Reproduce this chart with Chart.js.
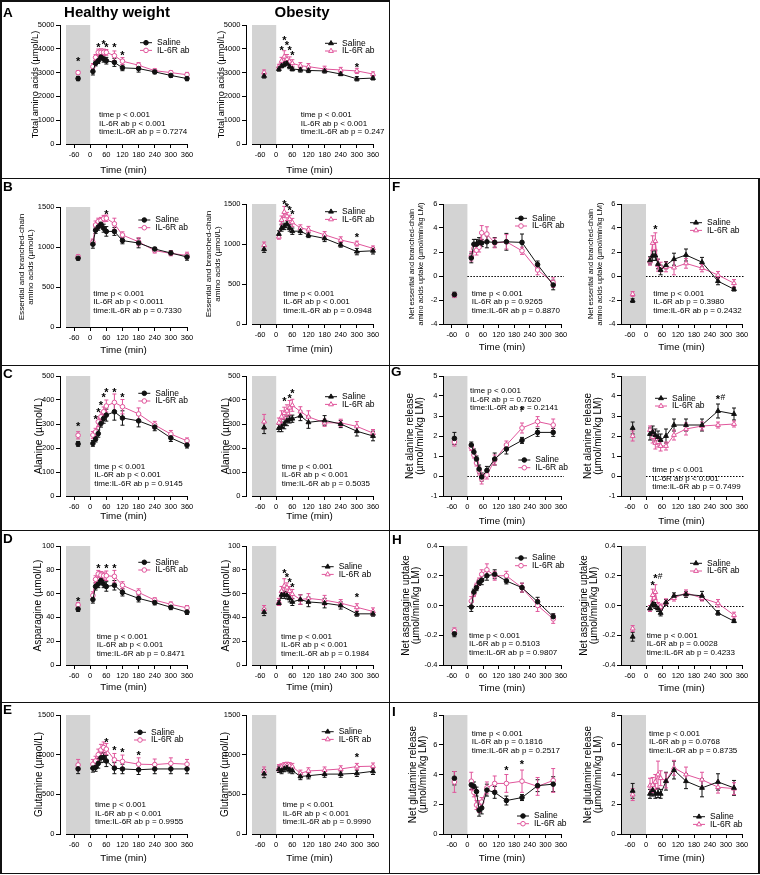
<!DOCTYPE html>
<html>
<head>
<meta charset="utf-8">
<script src="https://cdn.jsdelivr.net/npm/chart.js@4.4.1/dist/chart.umd.min.js"></script>
<style>
  body { margin: 0; background: #fff; }
  #fig { position: relative; width: 760px; height: 875px; overflow: hidden; font-family: "Liberation Sans", Arial, sans-serif; }
  #fig canvas { position: absolute; }
  .ln { position: absolute; background: #111; }
  .lbl { position: absolute; font-weight: bold; white-space: nowrap; }
</style>
</head>
<body>
<div id="fig"></div>
<script>
// Time axes
const concTimes = [-45, 10, 20, 30, 40, 50, 60, 90, 120, 180, 240, 300, 360];
const fluxTimes = [-50, 15, 25, 35, 45, 55, 75, 105, 150, 210, 270, 330];
const xTicks = [-60, 0, 60, 120, 180, 240, 300, 360];

// A - total amino acids
const taaTicks = [0, 1000, 2000, 3000, 4000, 5000];
const taaHwSal = [2750, 3050, 3390, 3500, 3650, 3570, 3500, 3430, 3200, 3170, 3030, 2880, 2750];
const taaHwSalErr = [90, 150, 110, 120, 120, 130, 140, 170, 120, 150, 80, 80, 90];
const taaHwIl = [3000, 3250, 3640, 3850, 3850, 3850, 3850, 3710, 3480, 3310, 3080, 3000, 2910];
const taaHwIlErr = [80, 130, 120, 140, 150, 140, 120, 200, 150, 110, 80, 80, 100];
const taaObSal = [2860, 3150, 3280, 3350, 3390, 3250, 3150, 3120, 3090, 3070, 2940, 2740, 2770];
const taaObSalErr = [90, 90, 80, 100, 80, 90, 80, 100, 90, 90, 70, 90, 80];
const taaObIl = [3010, 3250, 3490, 3670, 3560, 3460, 3390, 3290, 3250, 3150, 3110, 3070, 2940];
const taaObIlErr = [100, 100, 150, 250, 200, 200, 150, 130, 130, 120, 110, 110, 90];
const taaHwStarX = [-45, 30, 50, 60, 90, 120];
const taaHwStarY = [3580, 4160, 4300, 4190, 4160, 3850];
const taaObStarX = [20, 30, 40, 50, 60, 300];
const taaObStarY = [4050, 4480, 4270, 4050, 3850, 3350];
const taaHwStats = ["time p < 0.001", "IL-6R ab p < 0.001", "time:IL-6R ab p = 0.7274"];
const taaObStats = ["time p < 0.001", "IL-6R ab p < 0.001", "time:IL-6R ab p = 0.247"];

// B - essential and branched-chain amino acids
const eaaTicks = [0, 500, 1000, 1500];
const eaaHwSal = [860, 1035, 1210, 1250, 1285, 1235, 1195, 1195, 1080, 1050, 975, 925, 875];
const eaaHwSalErr = [25, 50, 40, 40, 35, 50, 60, 50, 40, 60, 20, 30, 40];
const eaaHwIl = [880, 1060, 1275, 1320, 1330, 1355, 1360, 1290, 1150, 1065, 955, 920, 895];
const eaaHwIlErr = [25, 40, 50, 40, 40, 40, 40, 70, 40, 50, 30, 30, 40];
const eaaObSal = [935, 1125, 1200, 1220, 1250, 1200, 1160, 1160, 1110, 1070, 990, 905, 915];
const eaaObSalErr = [40, 40, 40, 40, 40, 40, 40, 40, 30, 40, 30, 40, 40];
const eaaObIl = [985, 1090, 1300, 1400, 1345, 1310, 1270, 1200, 1180, 1115, 1050, 1005, 945];
const eaaObIlErr = [40, 30, 50, 70, 50, 50, 50, 40, 40, 40, 40, 30, 30];
const eaaHwStarX = [60];
const eaaHwStarY = [1445];
const eaaObStarX = [30, 40, 50, 60, 300];
const eaaObStarY = [1534, 1492, 1459, 1400, 1116];
const eaaHwStats = ["time p < 0.001", "IL-6R ab p < 0.0011", "time:IL-6R ab p = 0.7330"];
const eaaObStats = ["time p < 0.001", "IL-6R ab p < 0.001", "time:IL-6R ab p = 0.0948"];

// C - alanine
const alaTicks = [0, 100, 200, 300, 400, 500];
const alaHwSal = [217, 219, 237, 260, 302, 323, 337, 351, 325, 313, 287, 242, 212];
const alaHwSalErr = [10, 12, 12, 15, 15, 20, 25, 35, 30, 25, 15, 15, 12];
const alaHwIl = [253, 254, 267, 309, 330, 351, 375, 390, 372, 342, 296, 258, 230];
const alaHwIlErr = [15, 15, 15, 20, 20, 20, 25, 35, 30, 25, 15, 15, 12];
const alaObSal = [285, 283, 288, 300, 313, 319, 322, 334, 307, 315, 300, 270, 250];
const alaObSalErr = [25, 15, 20, 20, 20, 15, 15, 20, 25, 20, 15, 20, 20];
const alaObIl = [310, 305, 330, 345, 355, 368, 378, 352, 330, 305, 305, 290, 262];
const alaObIlErr = [30, 20, 25, 25, 25, 30, 25, 20, 25, 15, 15, 20, 15];
const alaHwStarX = [-45, 20, 30, 40, 50, 60, 90, 120];
const alaHwStarY = [302, 330, 358, 389, 423, 442, 442, 423];
const alaObStarX = [30, 50, 60];
const alaObStarY = [405, 420, 440];
const alaHwStats = ["time p < 0.001", "IL-6R ab p < 0.001", "time:IL-6R ab p = 0.9145"];
const alaObStats = ["time p < 0.001", "IL-6R ab p < 0.001", "time:IL-6R ab p = 0.5035"];

// D - asparagine
const asnTicks = [0, 20, 40, 60, 80, 100];
const asnHwSal = [47, 55, 66, 68, 71, 68, 66, 67, 61, 56, 52.5, 48.5, 44.5];
const asnHwSalErr = [2, 3, 3, 3, 3, 3, 4, 4, 3, 3, 2, 2, 2];
const asnHwIl = [50.5, 58.5, 72, 76.5, 75.5, 75, 75, 74.5, 67, 61, 54.5, 51, 48];
const asnHwIlErr = [2, 3, 3, 3, 3, 3, 4, 5, 3, 3, 2, 2, 2];
const asnObSal = [44.5, 52, 59, 59, 58.5, 56, 53, 55, 53, 52, 50, 43, 43];
const asnObSalErr = [3, 2, 3, 3, 3, 3, 3, 4, 4, 4, 3, 2, 2];
const asnObIl = [47, 53, 62, 66.5, 65, 62, 59.5, 55, 56, 54.5, 52, 48.5, 45];
const asnObIlErr = [3, 3, 4, 6, 4, 4, 4, 4, 4, 4, 3, 3, 3];
const asnHwStarX = [-45, 30, 60, 90];
const asnHwStarY = [55.7, 83.8, 83.8, 83.8];
const asnObStarX = [30, 40, 50, 60, 300];
const asnObStarY = [79.6, 76.2, 71.7, 67.5, 59.1];
const asnHwStats = ["time p < 0.001", "IL-6R ab p < 0.001", "time:IL-6R ab p = 0.8471"];
const asnObStats = ["time p < 0.001", "IL-6R ab p < 0.001", "time:IL-6R ab p = 0.1984"];

// E - glutamine
const glnTicks = [0, 500, 1000, 1500];
const glnHwSal = [821, 830, 840, 890, 960, 965, 920, 830, 820, 810, 820, 820, 820];
const glnHwSalErr = [60, 50, 50, 60, 60, 60, 70, 70, 60, 60, 60, 60, 60];
const glnHwIl = [870, 880, 920, 1000, 1060, 1090, 1070, 935, 915, 880, 875, 890, 880];
const glnHwIlErr = [70, 60, 60, 70, 70, 70, 70, 80, 80, 80, 70, 70, 60];
const glnObSal = [760, 815, 800, 825, 835, 810, 800, 725, 735, 755, 755, 765, 790];
const glnObSalErr = [50, 40, 40, 40, 40, 40, 40, 40, 40, 40, 40, 40, 40];
const glnObIl = [795, 835, 845, 860, 865, 860, 850, 765, 795, 805, 820, 850, 855];
const glnObIlErr = [50, 40, 40, 40, 40, 40, 40, 40, 40, 40, 40, 40, 40];
const glnHwStarX = [60, 90, 120, 180];
const glnHwStarY = [1186, 1089, 1060, 1026];
const glnObStarX = [300];
const glnObStarY = [997];
const glnHwStats = ["time p < 0.001", "IL-6R ab p < 0.001", "time:IL-6R ab p = 0.9955"];
const glnObStats = ["time p < 0.001", "IL-6R ab p < 0.001", "time:IL-6R ab p = 0.9990"];

// F - net EAA/BCAA uptake
const eaaUpTicks = [-4, -2, 0, 2, 4, 6];
const eaaUpHwSal = [-1.55, 1.5, 2.65, 2.65, 2.8, 2.75, 2.85, 2.8, 2.85, 2.8, 0.95, -0.75];
const eaaUpHwSalErr = [0.2, 0.4, 0.4, 0.4, 0.4, 0.3, 0.5, 0.4, 0.7, 0.7, 0.3, 0.4];
const eaaUpHwIl = [-1.6, 1.65, 2.3, 2.15, 2.4, 3.6, 3.5, 2.75, 2.85, 2.1, 0.5, -0.55];
const eaaUpHwIlErr = [0.2, 0.4, 0.3, 0.4, 0.4, 0.6, 0.6, 0.4, 0.6, 0.3, 0.4, 0.4];
const eaaUpObSal = [-2.05, 1.3, 1.7, 1.7, 1.0, 0.5, 0.9, 1.4, 1.75, 1.15, -0.43, -1.1];
const eaaUpObSalErr = [0.15, 0.3, 0.4, 0.4, 0.4, 0.4, 0.3, 0.5, 0.5, 0.4, 0.3, 0.15];
const eaaUpObIl = [-1.5, 1.2, 2.75, 2.9, 0.9, 0.75, 0.75, 0.7, 1.05, 0.65, 0.08, -0.6];
const eaaUpObIlErr = [0.2, 0.3, 0.6, 0.7, 0.5, 0.4, 0.4, 0.6, 0.4, 0.3, 0.3, 0.3];
const eaaUpObStarX = [35];
const eaaUpObStarY = [4.1];
const eaaUpHwStats = ["time p < 0.001", "IL-6R ab p = 0.9265", "time:IL-6R ab p = 0.8870"];
const eaaUpObStats = ["time p < 0.001", "IL-6R ab p = 0.3980", "time:IL-6R ab p = 0.2432"];

// G - net alanine release
const alaRelTicks = [-1, 0, 1, 2, 3, 4, 5];
const alaRelHwSal = [1.88, 1.55, 1.2, 0.85, 0.35, -0.05, 0.28, 0.85, 1.35, 1.78, 2.18, 2.18];
const alaRelHwSalErr = [0.3, 0.15, 0.15, 0.15, 0.2, 0.2, 0.2, 0.3, 0.25, 0.15, 0.2, 0.2];
const alaRelHwIl = [1.7, 1.42, 1.05, 0.65, 0.25, -0.15, 0.05, 0.8, 1.55, 2.4, 2.72, 2.55];
const alaRelHwIlErr = [0.2, 0.15, 0.15, 0.15, 0.2, 0.25, 0.2, 0.25, 0.2, 0.25, 0.25, 0.3];
const alaRelObSal = [2.4, 2.1, 2.2, 2.05, 1.95, 1.8, 2.0, 2.55, 2.55, 2.55, 3.25, 3.1];
const alaRelObSalErr = [0.3, 0.3, 0.3, 0.3, 0.3, 0.3, 0.35, 0.3, 0.3, 0.3, 0.35, 0.3];
const alaRelObIl = [2.0, 2.3, 1.95, 1.65, 1.7, 1.5, 1.5, 2.05, 2.35, 2.5, 2.55, 2.6];
const alaRelObIlErr = [0.25, 0.2, 0.3, 0.3, 0.25, 0.25, 0.2, 0.25, 0.3, 0.2, 0.15, 0.15];
const alaRelHwStarX = [210];
const alaRelHwStarY = [3.41];
const alaRelObStarX = [270];
const alaRelObStarY = [3.96];
const alaRelObStarTxt = ["*#"];
const alaRelHwStats = ["time p < 0.001", "IL-6R ab p = 0.7620", "time:IL-6R ab p = 0.2141"];
const alaRelObStats = ["time p < 0.001", "IL-6R ab p < 0.001", "time:IL-6R ab p = 0.7499"];

// H - net asparagine uptake
const asnUpTicks = [-0.4, -0.2, 0, 0.2, 0.4];
const asnUpHwSal = [-0.19, -0.01, 0.09, 0.12, 0.155, 0.17, 0.2, 0.21, 0.165, 0.12, 0.025, -0.075];
const asnUpHwSalErr = [0.02, 0.03, 0.02, 0.02, 0.02, 0.03, 0.03, 0.03, 0.02, 0.03, 0.03, 0.02];
const asnUpHwIl = [-0.17, 0.03, 0.08, 0.13, 0.165, 0.21, 0.24, 0.2, 0.2, 0.12, 0.0, -0.09];
const asnUpHwIlErr = [0.02, 0.03, 0.02, 0.02, 0.02, 0.03, 0.04, 0.03, 0.03, 0.03, 0.04, 0.03];
const asnUpObSal = [-0.21, -0.02, 0.01, 0.0, -0.02, -0.05, 0.02, 0.065, 0.075, 0.065, -0.05, -0.105];
const asnUpObSalErr = [0.03, 0.02, 0.02, 0.02, 0.02, 0.02, 0.02, 0.02, 0.02, 0.03, 0.015, 0.01];
const asnUpObIl = [-0.155, -0.02, 0.07, 0.09, 0.0, -0.01, 0.025, 0.05, 0.085, 0.05, 0.015, -0.065];
const asnUpObIlErr = [0.02, 0.02, 0.04, 0.05, 0.02, 0.02, 0.02, 0.02, 0.02, 0.02, 0.025, 0.02];
const asnUpObStarX = [25, 35];
const asnUpObStarY = [0.156, 0.2];
const asnUpObStarTxt = ["*", "*#"];
const asnUpHwStats = ["time p < 0.001", "IL-6R ab p = 0.5103", "time:IL-6R ab p = 0.9807"];
const asnUpObStats = ["time p < 0.001", "IL-6R ab p = 0.0028", "time:IL-6R ab p = 0.4233"];

// I - net glutamine release
const glnRelTicks = [0, 2, 4, 6, 8];
const glnRelHwSal = [3.75, 3.3, 3.2, 2.85, 1.6, 1.75, 2.95, 2.8, 2.25, 2.45, 3.25, 3.35];
const glnRelHwSalErr = [0.45, 0.3, 0.3, 0.3, 0.4, 0.4, 0.4, 0.4, 0.3, 0.2, 0.4, 0.5];
const glnRelHwIl = [3.5, 3.55, 2.8, 1.95, 1.85, 2.15, 3.1, 3.4, 3.4, 3.55, 3.2, 3.6];
const glnRelHwIlErr = [0.7, 0.6, 0.3, 0.3, 0.4, 0.3, 0.4, 0.5, 0.6, 0.75, 0.6, 0.8];
const glnRelObSal = [2.9, 2.7, 2.95, 2.7, 2.75, 2.7, 3.55, 4.3, 3.55, 3.1, 3.5, 3.1];
const glnRelObSalErr = [0.5, 0.3, 0.4, 0.3, 0.3, 0.3, 0.6, 0.6, 0.5, 0.6, 0.55, 0.5];
const glnRelObIl = [2.65, 3.25, 3.3, 3.5, 4.0, 3.75, 3.6, 4.45, 4.0, 3.65, 3.15, 3.05];
const glnRelObIlErr = [0.4, 0.5, 0.5, 0.5, 0.9, 0.5, 0.5, 0.5, 0.5, 0.5, 0.4, 0.4];
const glnRelHwStarX = [150, 210];
const glnRelHwStarY = [4.47, 4.87];
const glnRelHwStats = ["time p < 0.001", "IL-6R ab p = 0.1816", "time:IL-6R ab p = 0.2517"];
const glnRelObStats = ["time p < 0.001", "IL-6R ab p = 0.0768", "time:IL-6R ab p = 0.8735"];

// look
const FONT = '"Liberation Sans", Arial, Helvetica, sans-serif';
const PINK = "#E0559B";
const BLACK = "#111111";
const SHADE = "#D3D3D3";
const Y_W = 50, PAD_T = 12, PAD_R = 22, X_H = 34;

Chart.defaults.font.family = FONT;
Chart.defaults.color = "#000";

const fig = document.getElementById("fig");

// column geometry: y-axis x, x of -90 min, x of 360 min
const L1 = [60, 66, 187], L2 = [246, 252, 373], R1 = [443, 444, 561], R2 = [621, 622, 742];

const TT_B = ["Essential and branched-chain", "amino acids (µmol/L)"];
const TT_F = ["Net essential and branched-chain", "amino acids uptake (µmol/min/kg LM)"];

const charts = [
  { geo: [...L1, 25, 144], times: concTimes, sal: taaHwSal, salErr: taaHwSalErr, il: taaHwIl, ilErr: taaHwIlErr, marker: "circle",
    yTicks: taaTicks, yDec: 0, yTitle: "Total amino acids (µmol/L)", ytSize: 9.2, ytLH: 1.2, ytD: 25, xtD: 26,
    leg: [140, 42.7], stats: taaHwStats, statXY: [99, 115], starX: taaHwStarX, starY: taaHwStarY },
  { geo: [...L2, 25, 144], times: concTimes, sal: taaObSal, salErr: taaObSalErr, il: taaObIl, ilErr: taaObIlErr, marker: "triangle",
    yTicks: taaTicks, yDec: 0, yTitle: "Total amino acids (µmol/L)", ytSize: 9.2, ytLH: 1.2, ytD: 24.5, xtD: 26,
    leg: [325, 43.3], stats: taaObStats, statXY: [300.7, 115], starX: taaObStarX, starY: taaObStarY },

  { geo: [...L1, 207, 327], times: concTimes, sal: eaaHwSal, salErr: eaaHwSalErr, il: eaaHwIl, ilErr: eaaHwIlErr, marker: "circle",
    yTicks: eaaTicks, yDec: 0, yTitle: TT_B, ytSize: 8.1, ytLH: 1.11, ytD: 38.3, xtD: 23.3,
    leg: [138.3, 220], stats: eaaHwStats, statXY: [93.3, 293.3], starX: eaaHwStarX, starY: eaaHwStarY },
  { geo: [...L2, 204, 324], times: concTimes, sal: eaaObSal, salErr: eaaObSalErr, il: eaaObIl, ilErr: eaaObIlErr, marker: "triangle",
    yTicks: eaaTicks, yDec: 0, yTitle: TT_B, ytSize: 8.1, ytLH: 1.11, ytD: 37.3, xtD: 25,
    leg: [325, 211.7], stats: eaaObStats, statXY: [283.3, 293.3], starX: eaaObStarX, starY: eaaObStarY },

  { geo: [...L1, 376, 496], times: concTimes, sal: alaHwSal, salErr: alaHwSalErr, il: alaHwIl, ilErr: alaHwIlErr, marker: "circle",
    yTicks: alaTicks, yDec: 0, yTitle: "Alanine (µmol/L)", ytSize: 10.5, ytLH: 1.2, ytD: 21, xtD: 20.5,
    leg: [138.3, 393.3], stats: alaHwStats, statXY: [94.3, 466.7], starX: alaHwStarX, starY: alaHwStarY },
  { geo: [...L2, 376, 496], times: concTimes, sal: alaObSal, salErr: alaObSalErr, il: alaObIl, ilErr: alaObIlErr, marker: "triangle",
    yTicks: alaTicks, yDec: 0, yTitle: "Alanine (µmol/L)", ytSize: 10.5, ytLH: 1.2, ytD: 19.5, xtD: 20.5,
    leg: [325, 396.7], stats: alaObStats, statXY: [281.7, 466.7], starX: alaObStarX, starY: alaObStarY },

  { geo: [...L1, 546, 665], times: concTimes, sal: asnHwSal, salErr: asnHwSalErr, il: asnHwIl, ilErr: asnHwIlErr, marker: "circle",
    yTicks: asnTicks, yDec: 0, yTitle: "Asparagine (µmol/L)", ytSize: 10.2, ytLH: 1.2, ytD: 21.7, xtD: 22.7,
    leg: [138.3, 562.3], stats: asnHwStats, statXY: [96.7, 636.3], starX: asnHwStarX, starY: asnHwStarY },
  { geo: [...L2, 546, 665], times: concTimes, sal: asnObSal, salErr: asnObSalErr, il: asnObIl, ilErr: asnObIlErr, marker: "triangle",
    yTicks: asnTicks, yDec: 0, yTitle: "Asparagine (µmol/L)", ytSize: 10.2, ytLH: 1.2, ytD: 20, xtD: 22.7,
    leg: [321.7, 566.7], stats: asnObStats, statXY: [281, 636.3], starX: asnObStarX, starY: asnObStarY },

  { geo: [...L1, 715, 834], times: concTimes, sal: glnHwSal, salErr: glnHwSalErr, il: glnHwIl, ilErr: glnHwIlErr, marker: "circle",
    yTicks: glnTicks, yDec: 0, yTitle: "Glutamine (µmol/L)", ytSize: 10, ytLH: 1.2, ytD: 21, xtD: 24.7,
    leg: [134, 732.3], stats: glnHwStats, statXY: [95, 805], starX: glnHwStarX, starY: glnHwStarY },
  { geo: [...L2, 715, 834], times: concTimes, sal: glnObSal, salErr: glnObSalErr, il: glnObIl, ilErr: glnObIlErr, marker: "triangle",
    yTicks: glnTicks, yDec: 0, yTitle: "Glutamine (µmol/L)", ytSize: 10, ytLH: 1.2, ytD: 20.7, xtD: 24.7,
    leg: [321.7, 731.7], stats: glnObStats, statXY: [282.7, 805], starX: glnObStarX, starY: glnObStarY },

  { geo: [...R1, 204, 324], times: fluxTimes, sal: eaaUpHwSal, salErr: eaaUpHwSalErr, il: eaaUpHwIl, ilErr: eaaUpHwIlErr, marker: "circle",
    yTicks: eaaUpTicks, yDec: 0, yTitle: TT_F, ytSize: 7.4, ytLH: 1.18, ytD: 30.7, xtD: 23, zero: true,
    leg: [515, 218.3], stats: eaaUpHwStats, statXY: [471.7, 293.3], starX: [], starY: [] },
  { geo: [...R2, 204, 324], times: fluxTimes, sal: eaaUpObSal, salErr: eaaUpObSalErr, il: eaaUpObIl, ilErr: eaaUpObIlErr, marker: "triangle",
    yTicks: eaaUpTicks, yDec: 0, yTitle: TT_F, ytSize: 7.4, ytLH: 1.18, ytD: 29.7, xtD: 23, zero: true,
    leg: [690, 222.7], stats: eaaUpObStats, statXY: [653.3, 293.3], starX: eaaUpObStarX, starY: eaaUpObStarY },

  { geo: [...R1, 376, 496], times: fluxTimes, sal: alaRelHwSal, salErr: alaRelHwSalErr, il: alaRelHwIl, ilErr: alaRelHwIlErr, marker: "circle",
    yTicks: alaRelTicks, yDec: 0, yTitle: ["Net alanine release", "(µmol/min/kg LM)"], ytSize: 10, ytLH: 1.0, ytD: 33, xtD: 25, zero: true,
    leg: [518.3, 460], stats: alaRelHwStats, statXY: [470, 391], starX: alaRelHwStarX, starY: alaRelHwStarY },
  { geo: [...R2, 376, 496], times: fluxTimes, sal: alaRelObSal, salErr: alaRelObSalErr, il: alaRelObIl, ilErr: alaRelObIlErr, marker: "triangle",
    yTicks: alaRelTicks, yDec: 0, yTitle: ["Net alanine release", "(µmol/min/kg LM)"], ytSize: 10, ytLH: 1.0, ytD: 32.4, xtD: 25, zero: true,
    leg: [655, 398.3], stats: alaRelObStats, statXY: [652.3, 470], starX: alaRelObStarX, starY: alaRelObStarY, starTxt: alaRelObStarTxt },

  { geo: [...R1, 546, 665], times: fluxTimes, sal: asnUpHwSal, salErr: asnUpHwSalErr, il: asnUpHwIl, ilErr: asnUpHwIlErr, marker: "circle",
    yTicks: asnUpTicks, yDec: 1, yTitle: ["Net asparagine uptake", "(µmol/min/kg LM)"], ytSize: 10, ytLH: 1.0, ytD: 36.3, xtD: 23.7, zero: true,
    leg: [515, 558], stats: asnUpHwStats, statXY: [469, 635.7], starX: [], starY: [] },
  { geo: [...R2, 546, 665], times: fluxTimes, sal: asnUpObSal, salErr: asnUpObSalErr, il: asnUpObIl, ilErr: asnUpObIlErr, marker: "triangle",
    yTicks: asnUpTicks, yDec: 1, yTitle: ["Net asparagine uptake", "(µmol/min/kg LM)"], ytSize: 10, ytLH: 1.0, ytD: 36.4, xtD: 23.7, zero: true,
    leg: [690, 563.3], stats: asnUpObStats, statXY: [646.7, 635.7], starX: asnUpObStarX, starY: asnUpObStarY, starTxt: asnUpObStarTxt },

  { geo: [...R1, 715, 834], times: fluxTimes, sal: glnRelHwSal, salErr: glnRelHwSalErr, il: glnRelHwIl, ilErr: glnRelHwIlErr, marker: "circle",
    yTicks: glnRelTicks, yDec: 0, yTitle: ["Net glutamine release", "(µmol/min/kg LM)"], ytSize: 10, ytLH: 1.0, ytD: 29.7, xtD: 24.7,
    leg: [517, 816], stats: glnRelHwStats, statXY: [471.7, 733.3], starX: glnRelHwStarX, starY: glnRelHwStarY },
  { geo: [...R2, 715, 834], times: fluxTimes, sal: glnRelObSal, salErr: glnRelObSalErr, il: glnRelObIl, ilErr: glnRelObIlErr, marker: "triangle",
    yTicks: glnRelTicks, yDec: 0, yTitle: ["Net glutamine release", "(µmol/min/kg LM)"], ytSize: 10, ytLH: 1.0, ytD: 32.7, xtD: 24.7,
    leg: [693, 816.7], stats: glnRelObStats, statXY: [649, 733.3], starX: [], starY: [] }
];

// marker used in legends (same shape as the points)
function marker(ctx, style, x, y, r, stroke, fill) {
  ctx.beginPath();
  if (style === "triangle") {
    ctx.moveTo(x, y - r);
    ctx.lineTo(x + r * 0.866, y + r * 0.5);
    ctx.lineTo(x - r * 0.866, y + r * 0.5);
    ctx.closePath();
  } else {
    ctx.arc(x, y, r, 0, Math.PI * 2);
  }
  ctx.fillStyle = fill; ctx.fill();
  ctx.strokeStyle = stroke; ctx.lineWidth = 1; ctx.stroke();
}

function mkDs(label, times, vals, errs, color, style, filled) {
  const r = style === "triangle" ? 2.8 : 2.3;
  return {
    label, errs,
    data: times.map((t, i) => ({ x: t, y: vals[i] })),
    borderColor: color, borderWidth: 1,
    pointStyle: style, pointRadius: r, pointBorderWidth: 1,
    pointBorderColor: color, pointBackgroundColor: filled ? color : "#fff",
    // baseline point stands alone
    segment: { borderColor: ctx => ctx.p0DataIndex === 0 ? "rgba(0,0,0,0)" : color },
    clip: false
  };
}

function makeDeco(c, offX, offY) {
  return {
    id: "deco",
    beforeDatasetsDraw(chart) {
      const { ctx, chartArea: ca, scales: { x, y } } = chart;
      const gx0 = x.getPixelForValue(-90), gx1 = x.getPixelForValue(0), gx2 = x.getPixelForValue(360);
      ctx.save();
      ctx.fillStyle = SHADE;
      ctx.fillRect(gx0, ca.top, gx1 - gx0, ca.bottom - ca.top);
      ctx.strokeStyle = "#000"; ctx.lineWidth = 1;
      if (c.zero) {
        const zy = Math.round(y.getPixelForValue(0)) + 0.5;
        ctx.setLineDash([1.5, 1.5]);
        ctx.beginPath(); ctx.moveTo(gx1, zy); ctx.lineTo(gx2 + 3, zy); ctx.stroke();
        ctx.setLineDash([]);
      }
      // x axis line starts at the shaded block
      ctx.beginPath(); ctx.moveTo(gx0, ca.bottom + 0.5); ctx.lineTo(gx2 + 0.5, ca.bottom + 0.5); ctx.stroke();
      // error bars
      chart.data.datasets.forEach((d, di) => {
        const meta = chart.getDatasetMeta(di);
        ctx.strokeStyle = d.borderColor;
        meta.data.forEach((pt, i) => {
          const v = d.data[i].y, e = d.errs[i];
          const yt = y.getPixelForValue(v + e), yb = y.getPixelForValue(v - e);
          ctx.beginPath();
          ctx.moveTo(pt.x, yt); ctx.lineTo(pt.x, yb);
          ctx.moveTo(pt.x - 2, yt); ctx.lineTo(pt.x + 2, yt);
          ctx.moveTo(pt.x - 2, yb); ctx.lineTo(pt.x + 2, yb);
          ctx.stroke();
        });
      });
      ctx.restore();
    },
    afterDraw(chart) {
      const { ctx, scales: { x, y } } = chart;
      ctx.save();
      ctx.fillStyle = "#000";
      // significance marks
      c.starX.forEach((sx, i) => {
        const px = x.getPixelForValue(sx), py = y.getPixelForValue(c.starY[i]);
        ctx.font = "bold 11px " + FONT; ctx.textAlign = "center"; ctx.textBaseline = "alphabetic";
        ctx.fillText("*", px, py + 6.3);
        if (c.starTxt && c.starTxt[i] === "*#") {
          ctx.font = "8.5px " + FONT; ctx.textAlign = "left";
          ctx.fillText("#", px + 2.5, py + 3);
        }
      });
      // legend
      ctx.textAlign = "left"; ctx.textBaseline = "middle";
      chart.data.datasets.forEach((d, i) => {
        const lx = c.leg[0] - offX, ly = c.leg[1] - offY + i * 7.7;
        ctx.strokeStyle = d.borderColor; ctx.lineWidth = 1;
        ctx.beginPath(); ctx.moveTo(lx, ly); ctx.lineTo(lx + 12, ly); ctx.stroke();
        marker(ctx, c.marker, lx + 6, ly, d.pointRadius, d.borderColor, d.pointBackgroundColor);
        ctx.fillStyle = "#000"; ctx.font = "8.5px " + FONT;
        ctx.fillText(d.label, lx + 17, ly);
      });
      // stats text
      ctx.font = "8px " + FONT;
      c.stats.forEach((s, i) => ctx.fillText(s, c.statXY[0] - offX, c.statXY[1] - offY + i * 8.5));
      ctx.restore();
    }
  };
}

function makeChart(c) {
  const [ax, x0, x1, top, bot] = c.geo;
  const areaW = Math.round(x1 - ax), areaH = Math.round(bot - top);
  const cw = areaW + Y_W + PAD_R, ch = areaH + PAD_T + X_H;
  const left = ax - Y_W, topPx = Math.round(top) - PAD_T;
  const cv = document.createElement("canvas");
  cv.width = cw; cv.height = ch;
  cv.style.left = left + "px"; cv.style.top = topPx + "px";
  cv.style.width = cw + "px"; cv.style.height = ch + "px";
  fig.appendChild(cv);

  const gap = x0 - ax;
  const ppm = (areaW - gap) / 450;
  const xMin = -90 - gap / ppm;
  const lh = c.ytSize * c.ytLH;

  new Chart(cv, {
    type: "line",
    data: { datasets: [
      mkDs("Saline", c.times, c.sal, c.salErr, BLACK, c.marker, true),
      mkDs("IL-6R ab", c.times, c.il, c.ilErr, PINK, c.marker, false)
    ] },
    options: {
      responsive: false, animation: false, devicePixelRatio: 1,
      layout: { padding: { left: 0, top: PAD_T, right: PAD_R, bottom: 0 } },
      plugins: { legend: { display: false }, tooltip: { enabled: false } },
      scales: {
        x: {
          type: "linear", min: xMin, max: 360,
          afterBuildTicks: s => { s.ticks = xTicks.map(v => ({ value: v })); },
          afterFit: s => { s.height = X_H; },
          ticks: { autoSkip: false, maxRotation: 0, padding: 2.5, color: "#000", font: { size: 7.5 }, callback: v => String(v) },
          grid: { drawOnChartArea: false, drawTicks: true, tickLength: 4, color: "#000", lineWidth: 1 },
          border: { display: false },
          title: { display: true, text: "Time (min)", color: "#000", font: { size: 9.8, lineHeight: 1.2 },
                   padding: { top: 0, bottom: Math.max(0, X_H - c.xtD - 9.8 * 0.6) } }
        },
        y: {
          min: c.yTicks[0], max: c.yTicks[c.yTicks.length - 1],
          afterBuildTicks: s => { s.ticks = c.yTicks.map(v => ({ value: v })); },
          afterFit: s => { s.width = Y_W; },
          ticks: { padding: 1.5, color: "#000", font: { size: 7.5 },
                   callback: v => c.yDec ? Number(v).toFixed(c.yDec) : String(v) },
          grid: { drawOnChartArea: false, drawTicks: true, tickLength: 4, color: "#000", lineWidth: 1 },
          border: { display: true, color: "#000", width: 1 },
          title: { display: true, text: c.yTitle, color: "#000", font: { size: c.ytSize, lineHeight: c.ytLH },
                   padding: { top: Y_W - c.ytD - lh / 2, bottom: 0 } }
        }
      }
    },
    plugins: [makeDeco(c, left, topPx)]
  });
}

charts.forEach(makeChart);

// frame lines
function line(x, y, w, h) {
  const d = document.createElement("div");
  d.className = "ln";
  d.style.left = x + "px"; d.style.top = y + "px";
  d.style.width = w + "px"; d.style.height = h + "px";
  fig.appendChild(d);
}
line(0, 0, 390, 1.5);
[177.5, 364.5, 529.5, 701.5, 872.5].forEach(y => line(0, y, 759.5, 1.5));
line(0, 0, 1.5, 874);
line(388.5, 0, 1.5, 874);
line(758, 177.5, 1.5, 896 - 199.5);

// panel letters and group titles
function label(txt, x, y, size, w, align) {
  const d = document.createElement("div");
  d.className = "lbl";
  d.textContent = txt;
  d.style.left = x + "px"; d.style.top = y + "px";
  d.style.fontSize = size + "px"; d.style.lineHeight = size + "px";
  if (w) { d.style.width = w + "px"; d.style.textAlign = align; }
  fig.appendChild(d);
}
label("Healthy weight", 17, 4, 15, 200, "center");
label("Obesity", 202, 4, 15, 200, "center");
[["A", 3, 5.5], ["B", 3, 180.2], ["C", 3, 366.5], ["D", 3, 532.2], ["E", 3, 703.2],
 ["F", 392, 180.2], ["G", 391, 365.2], ["H", 392, 533.2], ["I", 392, 705.2]]
  .forEach(([t, x, y]) => label(t, x, y, 13.5));
</script>
</body>
</html>
